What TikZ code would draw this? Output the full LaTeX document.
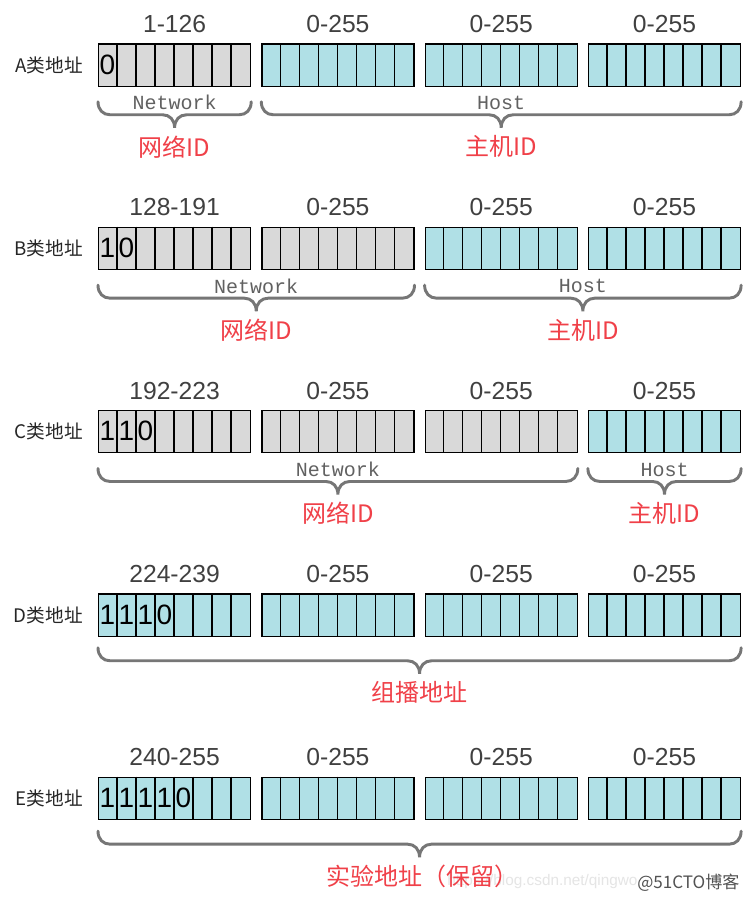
\documentclass[tikz,border=0pt]{standalone}
\usepackage{fontspec}
\setmainfont{Liberation Sans}
\setmonofont{Liberation Mono}
\newfontfamily\cjk{Noto Sans CJK SC}
\usetikzlibrary{positioning,calc}

\definecolor{netgray}{RGB}{217,217,217}
\definecolor{hostcyan}{RGB}{176,224,230}
\definecolor{idred}{RGB}{240,64,72}
\definecolor{bracegray}{RGB}{118,118,118}
\definecolor{rangegray}{RGB}{64,64,64}

\tikzset{every picture/.style={line width=0.75pt}}
\tikzset{
  octet/.style={draw=black, line width=0.9pt, minimum width=114pt, minimum height=31.7pt, inner sep=0pt, anchor=north west},
  bitdigit/.style={font=\fontsize{21}{21}\selectfont, text=black, inner sep=0pt},
  rangelabel/.style={font=\fontsize{18.5}{18.5}\selectfont, text=rangegray, inner sep=0pt},
  rowlabel/.style={font=\cjk\fontsize{14}{14}\selectfont, text=black!85, inner sep=0pt},
  partlabel/.style={font=\ttfamily\fontsize{15}{15}\selectfont, text=black!62, inner sep=0pt},
  idlabel/.style={font=\cjk\fontsize{18}{18}\selectfont, text=idred, inner sep=0pt},
  bracepen/.style={draw=bracegray, line width=2.2pt, line cap=round},
}

% curly brace under octets #1 .. #2, dropped by #3, coordinates named #4l, #4m, #4r
\newcommand{\addrbrace}[4]{%
  \coordinate (#4l) at ($(#1.south west)+(0,#3)$);
  \coordinate (#4r) at ($(#2.south east)+(0,#3)$);
  \coordinate (#4m) at ($(#4l)!0.5!(#4r)$);
  \draw[bracepen] (#4l) .. controls +(0,8) and +(-7,0) .. ($(#4l)+(12,13)$) -- ($(#4m)+(-12,13)$)
    .. controls +(7,0) and +(0,-8) .. ($(#4m)+(0,26)$)
    .. controls +(0,-8) and +(-7,0) .. ($(#4m)+(12,13)$) -- ($(#4r)+(-12,13)$)
    .. controls +(7,0) and +(0,8) .. (#4r);
}

\begin{document}
\begin{tikzpicture}[x=0.75pt,y=0.75pt,yscale=-1,xscale=1]
\useasboundingbox (0,0) rectangle (750,900);
\fill[white] (0,0) rectangle (750,900);

% Octets with their 8 bit cells
\foreach \row/\top/\nnet in {A/43.3/1, B/226.7/2, C/410/3, D/593.3/0, E/776.7/0} {
  \foreach \k in {1,...,4} {
    \ifnum\k>\nnet \def\cellfill{hostcyan}\else \def\cellfill{netgray}\fi
    \node[octet, fill=\cellfill] (\row\k) at ({98+163.3*(\k-1)},\top) {};
    \foreach \c in {1,...,7}
      \draw[line width=0.9pt] ($(\row\k.north west)+(19*\c,0)$) -- ($(\row\k.south west)+(19*\c,0)$);
  }
}

% Text Node: ranges above the octets
\foreach \row/\first in {A/1-126, B/128-191, C/192-223, D/224-239, E/240-255} {
  \node[rangelabel, above=7.5pt of \row1] (\row-range1) {\first};
  \foreach \k in {2,3,4}
    \node[rangelabel, above=7.5pt of \row\k] (\row-range\k) {0-255};
  % Text Node: class name
  \node[rowlabel, left=11pt of \row1] (\row-name) {\row 类地址};
}

% Text Node: leading bits
\foreach \row/\bits in {A/{0}, B/{1,0}, C/{1,1,0}, D/{1,1,1,0}, E/{1,1,1,1,0}} {
  \foreach \b [count=\i] in \bits
    \node[bitdigit] (\row-bit\i) at ($(\row1.north west)+({19*\i-9.5},21.2)$) {\b};
}

% Text Node: watermarks
\node[anchor=east, font=\fontsize{11.5}{11.5}\selectfont, text=black!10, inner sep=0pt] (wm-csdn) at (638,882) {https://blog.csdn.net/qingwo};
\node[anchor=east, font=\cjk\fontsize{12.8}{12.8}\selectfont, text=black!68, inner sep=0pt] (wm-51cto) at (740,883) {@51CTO博客};

% Braces: network / host parts
\foreach \first/\last/\nm/\part/\idtext in {A1/A1/Anet/Network/网络ID, A2/A4/Ahost/Host/主机ID,
    B1/B2/Bnet/Network/网络ID, B3/B4/Bhost/Host/主机ID,
    C1/C3/Cnet/Network/网络ID, C4/C4/Chost/Host/主机ID} {
  \addrbrace{\first}{\last}{15}{\nm}
  \node[partlabel] (\nm-part) at ($(\nm m)+(0,1)$) {\part};
  \node[idlabel] (\nm-id) at ($(\nm m)+(0,45)$) {\idtext};
}

% Braces: whole address
\addrbrace{D1}{D4}{11}{Dall}
\node[idlabel] (Dall-id) at ($(Dallm)+(0,45)$) {组播地址};
\addrbrace{E1}{E4}{11}{Eall}
\node[idlabel] (Eall-id) at ($(Eallm)+(3,45)$) {实验地址（保留）};

\end{tikzpicture}
\end{document}
